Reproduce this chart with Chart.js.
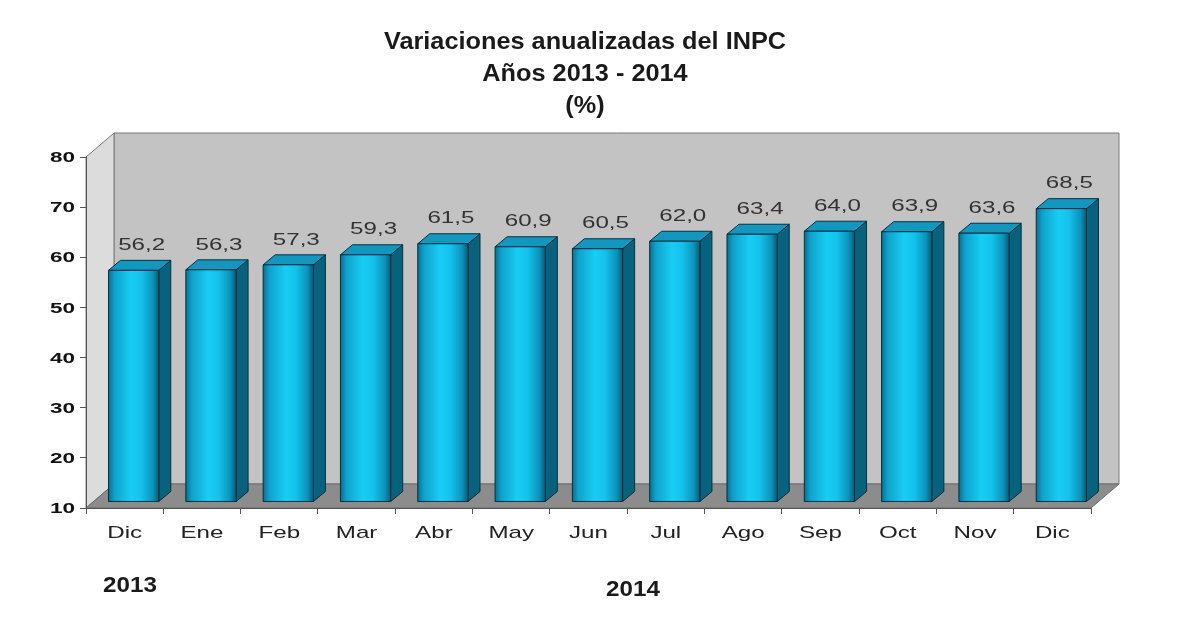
<!DOCTYPE html>
<html>
<head>
<meta charset="utf-8">
<script src="https://cdn.jsdelivr.net/npm/chart.js@4/dist/chart.umd.min.js"></script>
<style>
  html, body { margin: 0; padding: 0; background: #fff; }
  #wrap { width: 1193px; height: 622px; position: relative; }
</style>
</head>
<body>
<div id="wrap"><canvas id="inpcChart"></canvas></div>
<script>
const months = ["Dic", "Ene", "Feb", "Mar", "Abr", "May", "Jun", "Jul", "Ago", "Sep", "Oct", "Nov", "Dic"];
const inpcValues = [56.2, 56.3, 57.3, 59.3, 61.5, 60.9, 60.5, 62.0, 63.4, 64.0, 63.9, 63.6, 68.5];
const yearLabels = ["2013", "2014"];
const titleLines = ["Variaciones anualizadas del INPC", "Años 2013 - 2014", "(%)"];

const FONT = "'Liberation Sans', Arial, sans-serif";
// depth of the walls and of the bars
const WALL = { dx: 28, dy: -24 };
const BAR_SHIFT = { dx: 9, dy: -6 };
const BAR_DEPTH = { dx: 12, dy: -10 };
// the original picture was stretched sideways
const STRETCH = 1.42;

function poly(ctx, pts, fill, stroke) {
  ctx.beginPath();
  ctx.moveTo(pts[0][0], pts[0][1]);
  for (let i = 1; i < pts.length; i++) ctx.lineTo(pts[i][0], pts[i][1]);
  ctx.closePath();
  if (fill) { ctx.fillStyle = fill; ctx.fill(); }
  if (stroke) { ctx.strokeStyle = stroke; ctx.lineWidth = 1; ctx.stroke(); }
}

function wideText(ctx, text, x, y, sx, align) {
  ctx.save();
  ctx.translate(x, y);
  ctx.scale(sx, 1);
  ctx.textAlign = align;
  ctx.textBaseline = "middle";
  ctx.fillText(text, 0, 0);
  ctx.restore();
}

// grey back wall, side wall and floor
const walls = {
  id: "walls",
  beforeDraw(chart) {
    const { ctx, chartArea: a } = chart;
    ctx.save();
    poly(ctx, [[a.left + WALL.dx, a.top + WALL.dy], [a.right + WALL.dx, a.top + WALL.dy],
               [a.right + WALL.dx, a.bottom + WALL.dy], [a.left + WALL.dx, a.bottom + WALL.dy]], "#c3c3c3", "#7a7a7a");
    poly(ctx, [[a.left, a.top], [a.left + WALL.dx, a.top + WALL.dy],
               [a.left + WALL.dx, a.bottom + WALL.dy], [a.left, a.bottom]], "#dcdcdc", "#7a7a7a");
    poly(ctx, [[a.left, a.bottom], [a.right, a.bottom],
               [a.right + WALL.dx, a.bottom + WALL.dy], [a.left + WALL.dx, a.bottom + WALL.dy]], "#8c8c8c", "#6a6a6a");
    ctx.restore();
  }
};

// 3D bars drawn from the bar elements laid out by the scales
const bars3d = {
  id: "bars3d",
  afterDatasetsDraw(chart) {
    const { ctx } = chart;
    const meta = chart.getDatasetMeta(0);
    ctx.save();
    meta.data.forEach((el, i) => {
      const p = el.getProps(["x", "y", "base", "width"], true);
      const l = p.x - p.width / 2 + BAR_SHIFT.dx;
      const r = p.x + p.width / 2 + BAR_SHIFT.dx;
      const t = p.y + BAR_SHIFT.dy;
      const b = p.base + BAR_SHIFT.dy;
      const g = ctx.createLinearGradient(l, 0, r, 0);
      g.addColorStop(0, "#0a6f90");
      g.addColorStop(0.12, "#0fa2cb");
      g.addColorStop(0.45, "#18cdf5");
      g.addColorStop(0.65, "#14c2ec");
      g.addColorStop(0.88, "#0c93bb");
      g.addColorStop(1, "#075a75");
      poly(ctx, [[r, t], [r + BAR_DEPTH.dx, t + BAR_DEPTH.dy], [r + BAR_DEPTH.dx, b + BAR_DEPTH.dy], [r, b]], "#08627e", "#03303f");
      poly(ctx, [[l, t], [l + BAR_DEPTH.dx, t + BAR_DEPTH.dy], [r + BAR_DEPTH.dx, t + BAR_DEPTH.dy], [r, t]], "#1497bf", "#03303f");
      poly(ctx, [[l, t], [r, t], [r, b], [l, b]], g, "#03303f");

      ctx.fillStyle = "#333";
      ctx.font = "17px " + FONT;
      wideText(ctx, inpcValues[i].toFixed(1).replace(".", ","), p.x + BAR_SHIFT.dx + 8, t + BAR_DEPTH.dy - 15, STRETCH, "center");
    });
    ctx.restore();
  }
};

// tick labels (stretched), title and year captions
const captions = {
  id: "captions",
  afterDraw(chart) {
    const { ctx, scales: { x, y } } = chart;
    ctx.save();
    ctx.fillStyle = "#222";
    ctx.font = "17px " + FONT;
    x.ticks.forEach((t, i) => wideText(ctx, chart.data.labels[t.value], x.getPixelForTick(i), x.top + 25, STRETCH, "center"));
    ctx.fillStyle = "#111";
    ctx.font = "bold 15px " + FONT;
    y.ticks.forEach(t => wideText(ctx, String(t.value), y.right - 11, y.getPixelForValue(t.value) + 1, 1.5, "right"));

    ctx.fillStyle = "#1a1a1a";
    ctx.font = "bold 23px " + FONT;
    titleLines.forEach((s, i) => wideText(ctx, s, 585, 43 + i * 32, 1.1, "center"));
    ctx.font = "bold 22px " + FONT;
    wideText(ctx, yearLabels[0], 130, 586, 1.1, "center");
    wideText(ctx, yearLabels[1], 633, 590, 1.1, "center");
    ctx.restore();
  }
};

new Chart(document.getElementById("inpcChart"), {
  type: "bar",
  data: {
    labels: months,
    datasets: [{
      data: inpcValues,
      base: 10,
      backgroundColor: "rgba(0,0,0,0)",
      borderWidth: 0,
      barPercentage: 0.65,
      categoryPercentage: 1
    }]
  },
  options: {
    responsive: true,
    maintainAspectRatio: false,
    animation: false,
    layout: { padding: { left: 0, top: 157, right: 102, bottom: 0 } },
    plugins: { legend: { display: false }, tooltip: { enabled: false } },
    scales: {
      x: {
        afterFit(scale) { scale.height = 114; },
        grid: { drawOnChartArea: false, tickLength: 6, color: "#555", offset: true },
        border: { color: "#555" },
        ticks: { display: false, autoSkip: false, maxRotation: 0 }
      },
      y: {
        min: 10,
        max: 80,
        afterFit(scale) { scale.width = 86; },
        grid: { drawOnChartArea: false, tickLength: 6, color: "#555" },
        border: { color: "#555" },
        ticks: { display: false, stepSize: 10 }
      }
    }
  },
  plugins: [walls, bars3d, captions]
});
</script>
</body>
</html>
